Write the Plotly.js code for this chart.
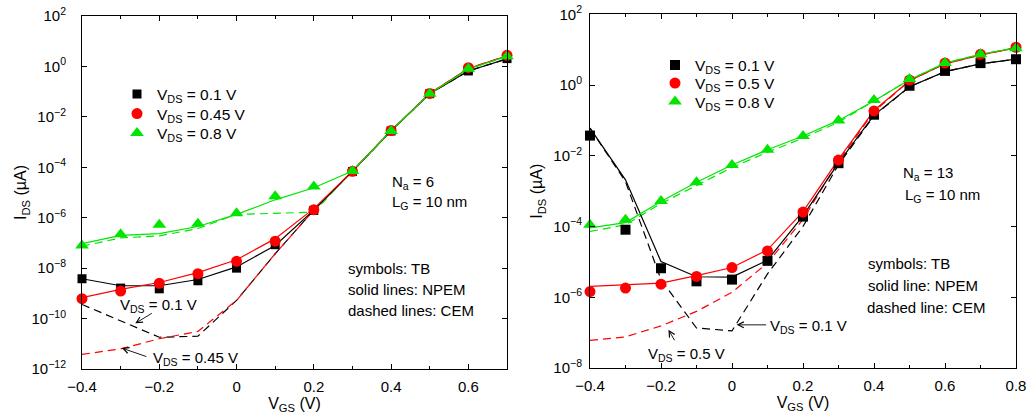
<!DOCTYPE html>
<html>
<head>
<meta charset="utf-8">
<script src="https://cdn.plot.ly/plotly-3.0.1.min.js"></script>
<style>html,body{margin:0;padding:0;background:#fff;}#chart{width:1030px;height:416px;}</style>
</head>
<body>
<div id="chart"></div>
<script>
// ---------------- Data (I_DS in µA) ----------------
// Left panel: Na = 6, LG = 10 nm
const vgsA = [-0.4, -0.3, -0.2, -0.1, 0, 0.1, 0.2, 0.3, 0.4, 0.5, 0.6, 0.7];
const tbA_01  = [3.80e-9, 1.62e-9, 1.51e-9, 3.16e-9, 1.00e-8, 8.51e-8, 1.95e-6, 6.76e-5, 2.75e-3, 8.32e-2, 0.661, 2.04];
const tbA_045 = [6.17e-10, 1.23e-9, 2.51e-9, 6.03e-9, 1.86e-8, 1.17e-7, 2.09e-6, 6.92e-5, 2.88e-3, 8.51e-2, 0.891, 2.75];
const tbA_08  = [7.94e-8, 2.19e-7, 5.25e-7, 5.75e-7, 1.51e-6, 7.08e-6, 1.74e-5, 7.08e-5, 2.75e-3, 8.32e-2, 0.813, 2.51];
const npA_01  = [3.80e-9, 2.00e-9, 2.00e-9, 3.55e-9, 1.12e-8, 7.94e-8, 2.00e-6, 7.08e-5, 2.82e-3, 8.32e-2, 0.661, 2.00];
const npA_045 = [6.76e-10, 1.45e-9, 2.69e-9, 6.61e-9, 2.14e-8, 1.48e-7, 2.29e-6, 7.08e-5, 2.82e-3, 8.51e-2, 0.832, 2.63];
const npA_08  = [9.33e-8, 2.00e-7, 2.34e-7, 4.47e-7, 1.35e-6, 5.13e-6, 1.55e-5, 7.08e-5, 2.82e-3, 8.32e-2, 0.794, 2.51];
const ceA_01  = [3.63e-10, 8.32e-11, 1.82e-11, 2.00e-11, 5.25e-10, 3.72e-8, 2.00e-6, 6.92e-5, 2.75e-3, 8.32e-2, 0.661, 2.00];
const ceA_045 = [3.80e-12, 6.31e-12, 1.58e-11, 3.09e-11, 5.25e-10, 3.72e-8, 2.00e-6, 7.08e-5, 2.82e-3, 8.51e-2, 0.832, 2.63];
const ceA_08  = [7.41e-8, 1.58e-7, 1.91e-7, 3.72e-7, 1.35e-6, 1.45e-6, 1.66e-6, 7.08e-5, 2.82e-3, 8.32e-2, 0.794, 2.51];

// Right panel: Na = 13, LG = 10 nm
const vgsB = [-0.4, -0.3, -0.2, -0.1, 0, 0.1, 0.2, 0.3, 0.4, 0.5, 0.6, 0.7, 0.8];
const tbB_01 = [3.72e-2, 8.13e-5, 6.61e-6, 2.82e-6, 3.16e-6, 1.07e-5, 1.91e-4, 6.17e-3, 0.145, 0.955, 2.51, 4.17, 5.37];
const tbB_05 = [1.45e-6, 1.82e-6, 2.34e-6, 3.89e-6, 6.92e-6, 2.04e-5, 2.57e-4, 7.59e-3, 0.186, 1.38, 4.17, 7.41, 11.7];
const tbB_08 = [1.12e-4, 1.55e-4, 5.25e-4, 1.78e-3, 5.50e-3, 1.48e-2, 3.63e-2, 0.100, 0.380, 1.48, 4.17, 7.41, 11.0];
const npB_01 = [6.03e-2, 2.09e-3, 1.02e-5, 3.80e-6, 3.72e-6, 1.12e-5, 2.00e-4, 6.31e-3, 0.141, 0.891, 2.40, 3.98, 5.37];
const npB_05 = [2.04e-6, 2.24e-6, 2.51e-6, 4.07e-6, 6.92e-6, 2.19e-5, 2.63e-4, 7.94e-3, 0.191, 1.32, 3.98, 7.08, 11.2];
const npB_08 = [9.12e-5, 1.29e-4, 5.13e-4, 1.78e-3, 5.50e-3, 1.48e-2, 3.63e-2, 0.100, 0.355, 1.41, 4.17, 7.41, 11.2];
const ceB_01 = [6.03e-2, 1.86e-3, 3.16e-6, 1.35e-7, 1.12e-7, 4.57e-6, 1.00e-4, 5.62e-3, 0.135, 0.891, 2.40, 3.98, 5.37];
const ceB_05 = [6.03e-8, 7.59e-8, 1.55e-7, 3.98e-7, 1.38e-6, 9.33e-6, 1.58e-4, 7.08e-3, 0.178, 1.32, 3.98, 7.08, 11.2];
const ceB_08 = [7.24e-5, 1.12e-4, 4.47e-4, 1.48e-3, 4.68e-3, 1.26e-2, 3.16e-2, 0.089, 0.355, 1.41, 4.17, 7.41, 11.2];

const yTickValsA = [1e2, 1e0, 1e-2, 1e-4, 1e-6, 1e-8, 1e-10, 1e-12];
const yTickTextA = ['10<sup>2</sup>', '10<sup>0</sup>', '10<sup>−2</sup>', '10<sup>−4</sup>', '10<sup>−6</sup>', '10<sup>−8</sup>', '10<sup>−10</sup>', '10<sup>−12</sup>'];
const yTickValsB = [1e2, 1e0, 1e-2, 1e-4, 1e-6, 1e-8];
const yTickTextB = ['10<sup>2</sup>', '10<sup>0</sup>', '10<sup>−2</sup>', '10<sup>−4</sup>', '10<sup>−6</sup>', '10<sup>−8</sup>'];

// ---------------- Styling ----------------
const FONT = 'Liberation Sans, Arial, Helvetica, sans-serif';
const BLACK = '#000000', RED = '#ff0000', GREEN = '#00e600';
const DASH = '8px,5px';
const LW = 1.2;

// Plot area: x 82..1016, y 14..369 (pixels)
const ML = 82, MR = 14, MT = 14, MB = 47;
const PW = 1030 - ML - MR, PH = 416 - MT - MB;
const px = (x) => (x - ML) / PW;
const py = (y) => (416 - MB - y) / PH;

function lineTrace(x, y, color, dashed, xa, ya) {
  return {x: x, y: y, type: 'scatter', mode: 'lines', xaxis: xa, yaxis: ya,
    line: {color: color, width: LW, dash: dashed ? DASH : 'solid'},
    showlegend: false, hoverinfo: 'skip', cliponaxis: false};
}
function markTrace(x, y, color, symbol, size, name, xa, ya, leg) {
  return {x: x, y: y, type: 'scatter', mode: 'markers', xaxis: xa, yaxis: ya, name: name,
    marker: {color: color, symbol: symbol, size: size, line: {width: 0}},
    legend: leg, cliponaxis: false};
}

const traces = [
  // left panel lines
  lineTrace(vgsA, ceA_01, BLACK, true, 'x', 'y'),
  lineTrace(vgsA, ceA_045, RED, true, 'x', 'y'),
  lineTrace(vgsA, ceA_08, GREEN, true, 'x', 'y'),
  lineTrace(vgsA, npA_01, BLACK, false, 'x', 'y'),
  lineTrace(vgsA, npA_045, RED, false, 'x', 'y'),
  lineTrace(vgsA, npA_08, GREEN, false, 'x', 'y'),
  // left panel markers
  markTrace(vgsA, tbA_01, BLACK, 'square', 9, 'V<sub>DS</sub> = 0.1 V', 'x', 'y', 'legend'),
  markTrace(vgsA, tbA_045, RED, 'circle', 11, 'V<sub>DS</sub> = 0.45 V', 'x', 'y', 'legend2'),
  markTrace(vgsA, tbA_08, GREEN, 'triangle-up', 12, 'V<sub>DS</sub> = 0.8 V', 'x', 'y', 'legend3'),
  // right panel lines
  lineTrace(vgsB, ceB_01, BLACK, true, 'x2', 'y2'),
  lineTrace(vgsB, ceB_05, RED, true, 'x2', 'y2'),
  lineTrace(vgsB, ceB_08, GREEN, true, 'x2', 'y2'),
  lineTrace(vgsB, npB_01, BLACK, false, 'x2', 'y2'),
  lineTrace(vgsB, npB_05, RED, false, 'x2', 'y2'),
  lineTrace(vgsB, npB_08, GREEN, false, 'x2', 'y2'),
  // right panel markers
  markTrace(vgsB, tbB_01, BLACK, 'square', 10, 'V<sub>DS</sub> = 0.1 V', 'x2', 'y2', 'legend4'),
  markTrace(vgsB, tbB_05, RED, 'circle', 11, 'V<sub>DS</sub> = 0.5 V', 'x2', 'y2', 'legend5'),
  markTrace(vgsB, tbB_08, GREEN, 'triangle-up', 12, 'V<sub>DS</sub> = 0.8 V', 'x2', 'y2', 'legend6')
];

const tickFont = {family: FONT, size: 15, color: '#000'};
const titleFont = {family: FONT, size: 16, color: '#000'};
function xAxis(domain, range, anchor) {
  return {domain: domain, range: range, anchor: anchor, type: 'linear',
    dtick: 0.2, tick0: 0, ticks: 'inside', ticklen: 5, tickwidth: 1, tickcolor: '#000',
    minor: {dtick: 0.1, ticks: 'inside', ticklen: 3, tickwidth: 1, tickcolor: '#000'},
    showline: true, linecolor: '#000', linewidth: 1, mirror: 'ticks',
    showgrid: false, zeroline: false, tickfont: tickFont, ticklabelstandoff: 4,
    title: {text: 'V<sub>GS</sub> (V)', font: titleFont, standoff: 0}};
}
function yAxis(domain, range, anchor, vals, text, standoff, tstand) {
  return {domain: domain, range: range, anchor: anchor, type: 'log',
    tickvals: vals, ticktext: text, ticks: 'inside', ticklen: 5, tickwidth: 1, tickcolor: '#000',
    showline: true, linecolor: '#000', linewidth: 1, mirror: 'ticks',
    showgrid: false, zeroline: false, tickfont: tickFont, ticklabelstandoff: standoff,
    title: {text: 'I<sub>DS</sub> (µA)', font: titleFont, standoff: tstand}};
}

const annFont = {family: FONT, size: 15, color: '#000'};
function txt(text, x, y) {
  return {text: text, xref: 'paper', yref: 'paper', x: px(x), y: py(y),
    xanchor: 'left', yanchor: 'middle', showarrow: false, font: annFont};
}
function arrow(xref, yref, x, ylog, ax, ay) {
  return {text: '', xref: xref, yref: yref, x: x, y: ylog, ax: ax, ay: ay,
    showarrow: true, arrowhead: 5, arrowsize: 1.3, arrowwidth: 0.9, arrowcolor: '#000'};
}

const annotations = [
  txt('V<sub>DS</sub> = 0.1 V', 118, 305),
  txt('V<sub>DS</sub> = 0.45 V', 151, 358),
  txt('N<sub>a</sub> = 6', 390, 182),
  txt('L<sub>G</sub> = 10 nm', 390, 203),
  txt('symbols: TB', 346, 268),
  txt('solid lines: NPEM', 346, 289),
  txt('dashed lines: CEM', 346, 310),
  arrow('x', 'y', -0.262, -10.19, 18, -11),
  arrow('x', 'y', -0.297, -11.17, 26, 9),
  txt('V<sub>DS</sub> = 0.5 V', 646, 354),
  txt('V<sub>DS</sub> = 0.1 V', 768, 326),
  txt('N<sub>a</sub> = 13', 901, 174),
  txt('L<sub>G</sub> = 10 nm', 903, 195),
  txt('symbols: TB', 866, 263),
  txt('solid line: NPEM', 866, 285),
  txt('dashed line: CEM', 865, 307),
  arrow('x2', 'y2', -0.179, -6.92, 7, 12),
  arrow('x2', 'y2', 0.013, -6.78, 31, 0)
];

const legFont = {family: FONT, size: 15.5, color: '#000'};
function leg(xpx, ypx) {
  return {x: px(xpx), y: py(ypx), xanchor: 'left', yanchor: 'top', bgcolor: 'rgba(0,0,0,0)',
    font: legFont, borderwidth: 0};
}
const LEG_OFF = 14.5; // row center sits this far below the legend top
const layout = {
  width: 1030, height: 416,
  margin: {l: ML, r: MR, t: MT, b: MB, pad: 0},
  paper_bgcolor: '#fff', plot_bgcolor: 'rgba(0,0,0,0)',
  font: {family: FONT, size: 15, color: '#000'},
  xaxis: xAxis([0, px(507)], [-0.4, 0.7], 'y'),
  yaxis: yAxis([py(369), py(16)], [-12, 2], 'x', yTickValsA, yTickTextA, 12, 0),
  xaxis2: xAxis([px(590), 1], [-0.4, 0.8], 'y2'),
  yaxis2: yAxis([py(368), py(14.3)], [-8, 2], 'x2', yTickValsB, yTickTextB, 4, 6),
  legend:  leg(117, 92 - LEG_OFF),
  legend2: leg(117, 111.5 - LEG_OFF),
  legend3: leg(117, 131 - LEG_OFF),
  legend4: leg(655, 63 - LEG_OFF),
  legend5: leg(655, 81 - LEG_OFF),
  legend6: leg(655, 99.5 - LEG_OFF),
  annotations: annotations,
  showlegend: true
};

Plotly.newPlot('chart', traces, layout, {staticPlot: true, displayModeBar: false});
</script>
</body>
</html>
